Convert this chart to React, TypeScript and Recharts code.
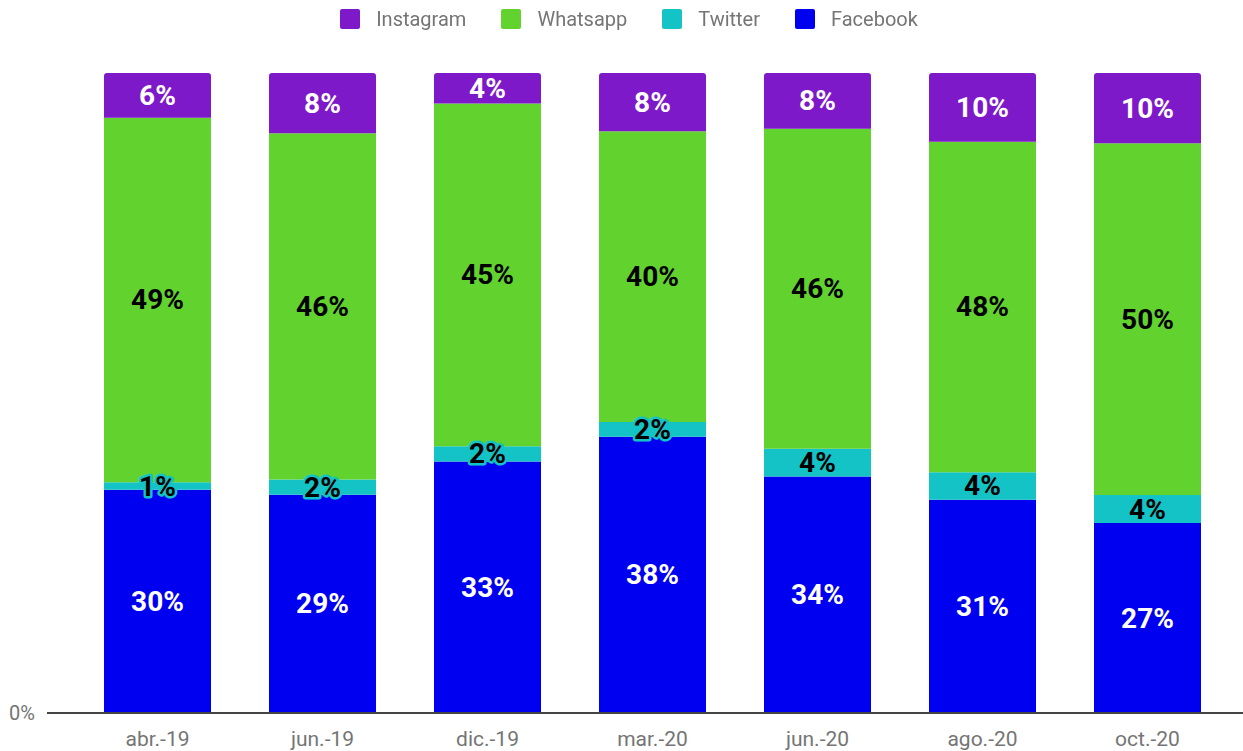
import { BarChart, Bar, XAxis, YAxis, LabelList } from 'recharts'

const categories = ['abr.-19', 'jun.-19', 'dic.-19', 'mar.-20', 'jun.-20', 'ago.-20', 'oct.-20']
const facebook = [30, 29, 33, 38, 34, 31, 27]
const twitter = [1, 2, 2, 2, 4, 4, 4]
const whatsapp = [49, 46, 45, 40, 46, 48, 50]
const instagram = [6, 8, 4, 8, 8, 10, 10]

const SERIES = [
  { key: 'Facebook', values: facebook, color: '#0000f0', text: '#ffffff' },
  { key: 'Twitter', values: twitter, color: '#14c3c6', text: '#000000' },
  { key: 'Whatsapp', values: whatsapp, color: '#62d22f', text: '#000000' },
  { key: 'Instagram', values: instagram, color: '#7d19c8', text: '#ffffff' },
]

const data = categories.map((c, i) => {
  const row: Record<string, string | number> = { name: c }
  for (const s of SERIES) row[s.key] = s.values[i]
  return row
})

const FONT = 'Roboto, "Noto Sans", sans-serif'

function makeLabel(series: typeof SERIES[number]) {
  return (props: any) => {
    const { x, y, width, height, value } = props
    const small = value < 3
    return (
      <text
        x={x + width / 2}
        y={y + height / 2}
        textAnchor="middle"
        dominantBaseline="central"
        fontFamily={FONT}
        fontWeight={700}
        fontSize={28}
        fill={series.text}
        stroke={small ? series.color : 'none'}
        strokeWidth={small ? 5 : 0}
        strokeLinejoin="round"
        style={{ paintOrder: 'stroke' }}
      >
        {value}%
      </text>
    )
  }
}

function AxisTick(props: any) {
  const { x, y, payload, anchor, dy, size, format } = props
  return (
    <text x={x} y={y} dy={dy} textAnchor={anchor} fill="#757575" fontSize={size} fontFamily={FONT}>
      {format ? format(payload.value) : payload.value}
    </text>
  )
}

function LegendRow() {
  const items = [...SERIES].reverse()
  return (
    <div
      style={{
        position: 'absolute', left: 0, top: 8, width: 1258, display: 'flex',
        justifyContent: 'center', alignItems: 'center', fontFamily: FONT,
        fontSize: 20, color: '#757575',
      }}
    >
      {items.map((s, i) => (
        <div key={s.key} style={{ display: 'flex', alignItems: 'center', marginLeft: i ? 35 : 0 }}>
          <span style={{ width: 20, height: 20, borderRadius: 2, background: s.color, display: 'inline-block', marginRight: 16 }} />
          <span style={{ lineHeight: '22px' }}>{s.key}</span>
        </div>
      ))}
    </div>
  )
}

export default function App() {
  return (
    <div style={{ position: 'fixed', left: 0, top: 0, width: 1243, height: 751, background: '#fff' }}>
      <BarChart
        width={1243}
        height={751}
        data={data}
        stackOffset="expand"
        margin={{ top: 73, right: 0, bottom: 8, left: 0 }}
        barSize={107}
      >
        <XAxis
          dataKey="name"
          axisLine={{ stroke: '#444', strokeWidth: 2 }}
          tickLine={false}
          tickSize={8}
          tickMargin={6}
          padding={{ left: 28, right: 13 }}
          tick={<AxisTick anchor="middle" dy={19} size={21} />}
        />
        <YAxis
          width={47}
          domain={[0, 1]}
          ticks={[0]}
          axisLine={false}
          tickLine={false}
          tickMargin={6}
          tick={<AxisTick anchor="end" dy={7} size={20} format={(v: number) => `${Math.round(v * 100)}%`} />}
        />
        {SERIES.map((s, i) => (
          <Bar
            key={s.key}
            dataKey={s.key}
            stackId="a"
            fill={s.color}
            isAnimationActive={false}
            radius={i === SERIES.length - 1 ? [3, 3, 0, 0] : 0}
          >
            <LabelList dataKey={s.key} content={makeLabel(s)} />
          </Bar>
        ))}
      </BarChart>
      <LegendRow />
    </div>
  )
}
